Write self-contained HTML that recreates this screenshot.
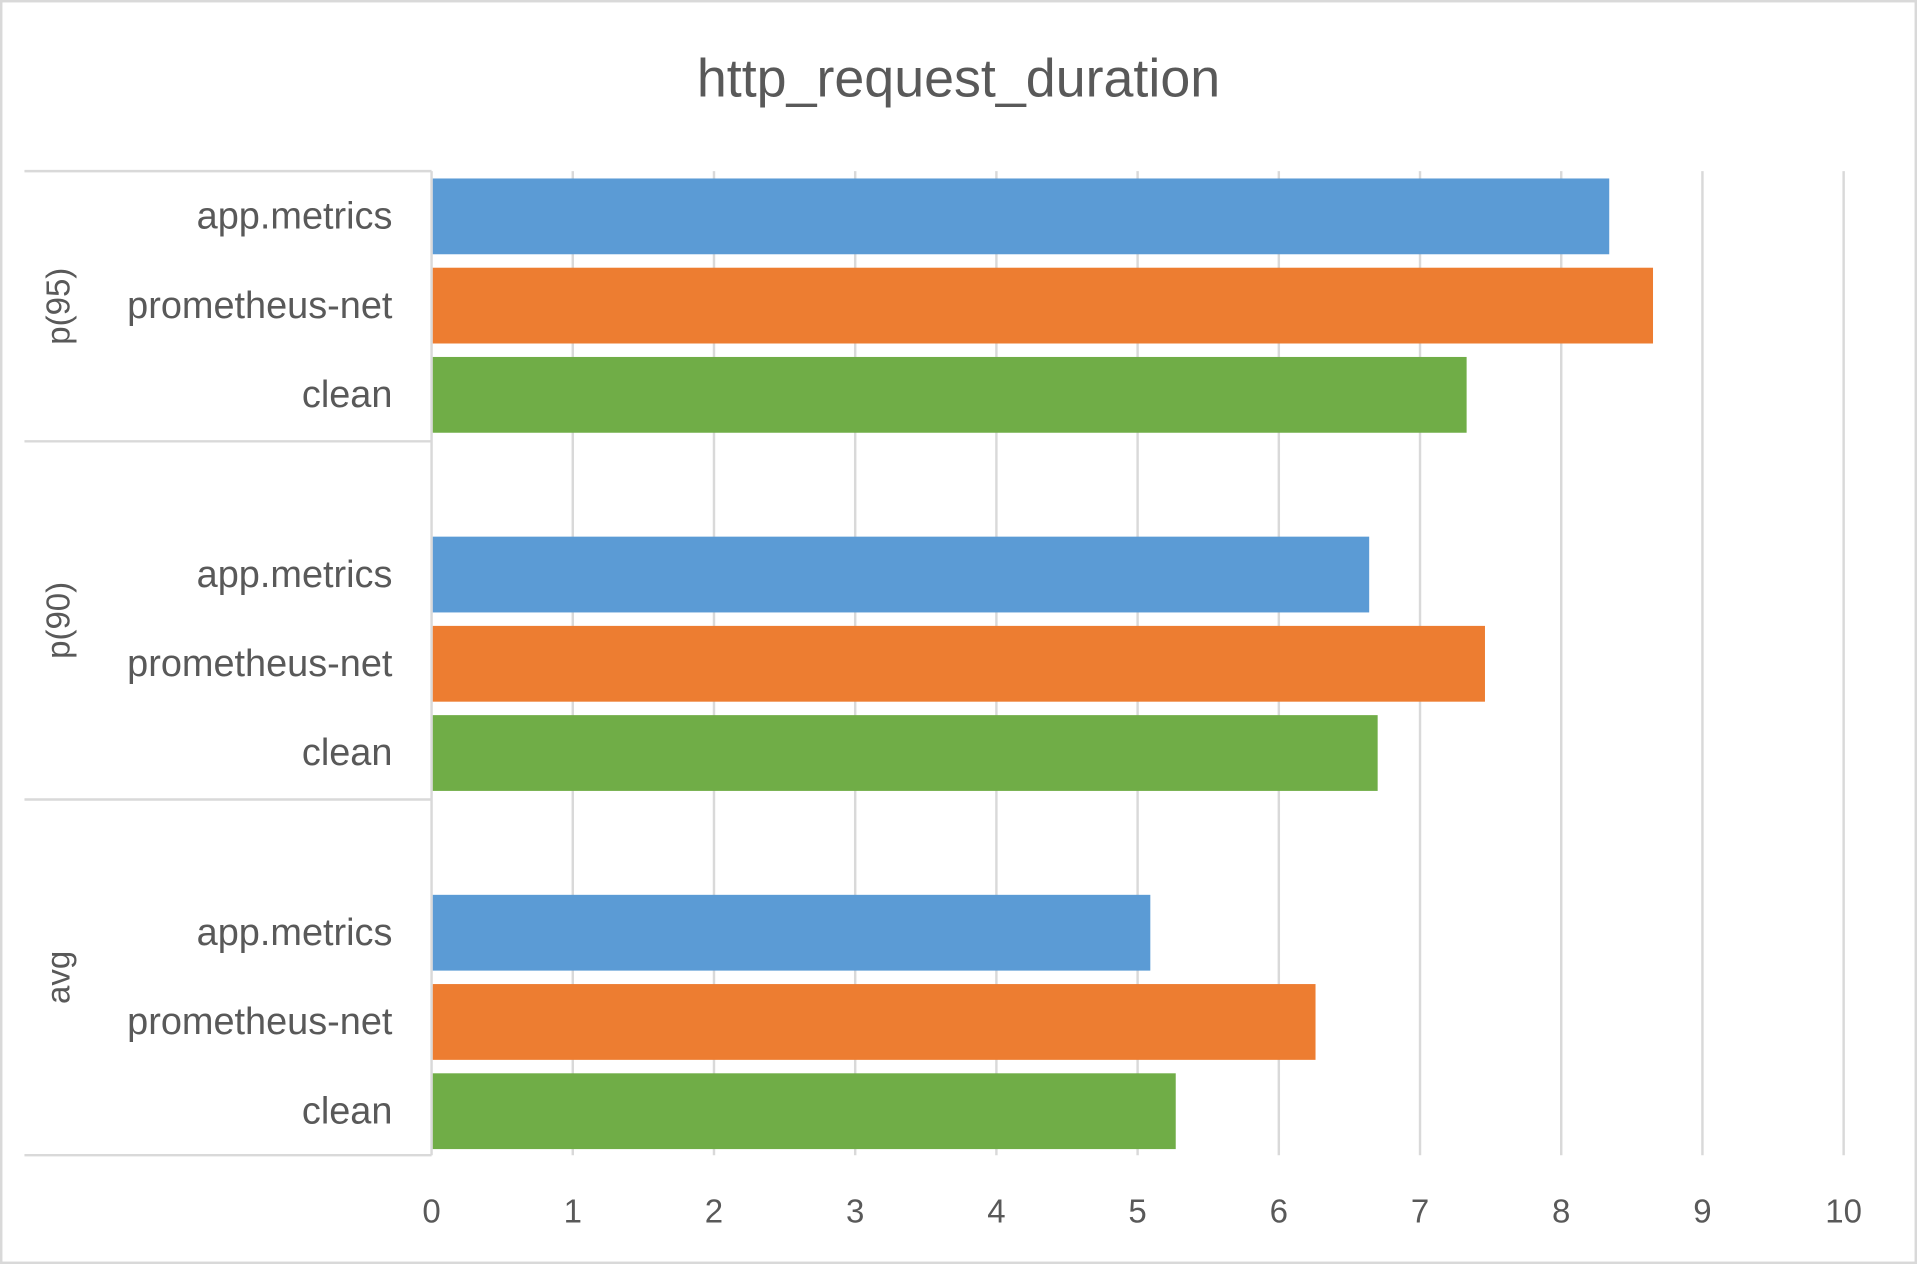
<!DOCTYPE html>
<html><head><meta charset="utf-8"><style>
html,body{margin:0;padding:0;background:#fff;}
svg{display:block;}
text{font-family:"Liberation Sans",sans-serif;fill:#595959;}
</style></head><body>
<svg id="chart" width="1917" height="1264" viewBox="0 0 1568 1034" preserveAspectRatio="none" xmlns="http://www.w3.org/2000/svg">
<rect x="1" y="1" width="1566" height="1032" fill="#fff" stroke="#d9d9d9" stroke-width="2"/>
<text x="784" y="79" font-size="44" text-anchor="middle">http_request_duration</text>
<g id="grid"></g><g id="bars"></g><g id="labels"></g>
</svg>
<script>
const groups = ["p(95)", "p(90)", "avg"];
const seriesNames = ["app.metrics", "prometheus-net", "clean"];
const seriesColors = ["#5b9bd5", "#ed7d31", "#70ad47"];
const valuesAppMetrics = [8.34, 6.64, 5.09];
const valuesPrometheus = [8.65, 7.46, 6.26];
const valuesClean = [7.33, 6.70, 5.27];
const xTicks = [0,1,2,3,4,5,6,7,8,9,10];

const NS="http://www.w3.org/2000/svg";
const x0=353, x1=1508, plotTop=140, plotBottom=945;
const xs=v=>x0+(x1-x0)*v/10;
const grid=document.getElementById('grid'), bars=document.getElementById('bars'), labels=document.getElementById('labels');
function mk(tag,attrs,parent){const e=document.createElementNS(NS,tag);for(const k in attrs)e.setAttribute(k,attrs[k]);parent.appendChild(e);return e;}
xTicks.forEach(t=>{
  if(t>0){const l=mk('line',{x1:xs(t),x2:xs(t),y1:plotTop,y2:plotBottom,stroke:'#d9d9d9','stroke-width':2},grid);
  
  }
  const tx=mk('text',{x:xs(t),y:1000,'font-size':27,'text-anchor':'middle'},labels);
  tx.textContent=t;
  
  
});
const ax=mk('line',{x1:x0,x2:x0,y1:plotTop,y2:plotBottom,stroke:'#d9d9d9','stroke-width':2},grid);


const barH=62, step=73, groupStep=293, firstBar=146;
const dividerYs=[plotTop, firstBar+2*step+barH+7, firstBar+groupStep+2*step+barH+7, plotBottom];
dividerYs.forEach(y=>{
  const l=mk('line',{x1:20,x2:x0,y1:y,y2:y,stroke:'#d9d9d9','stroke-width':2},grid);
  
  
});
const allVals=[valuesAppMetrics,valuesPrometheus,valuesClean];
groups.forEach((gname,g)=>{
  const gy=firstBar+g*groupStep;
  const mid=(dividerYs[g]+dividerYs[g+1])/2;
  const gl=mk('text',{x:0,y:0,'font-size':27,'text-anchor':'middle',transform:`translate(57,${mid}) rotate(-90)`},labels);
  gl.textContent=gname;
  
  
  seriesNames.forEach((s,i)=>{
    const y=gy+i*step;
    const r=mk('rect',{x:x0+1,y:y,width:xs(allVals[i][g])-x0-1,height:barH,fill:seriesColors[i]},bars);
    
    
    const t=mk('text',{x:321,y:y+barH/2+10,'font-size':31,'text-anchor':'end'},labels);
    t.textContent=s;
    
    
  });
});
</script>
</body></html>
